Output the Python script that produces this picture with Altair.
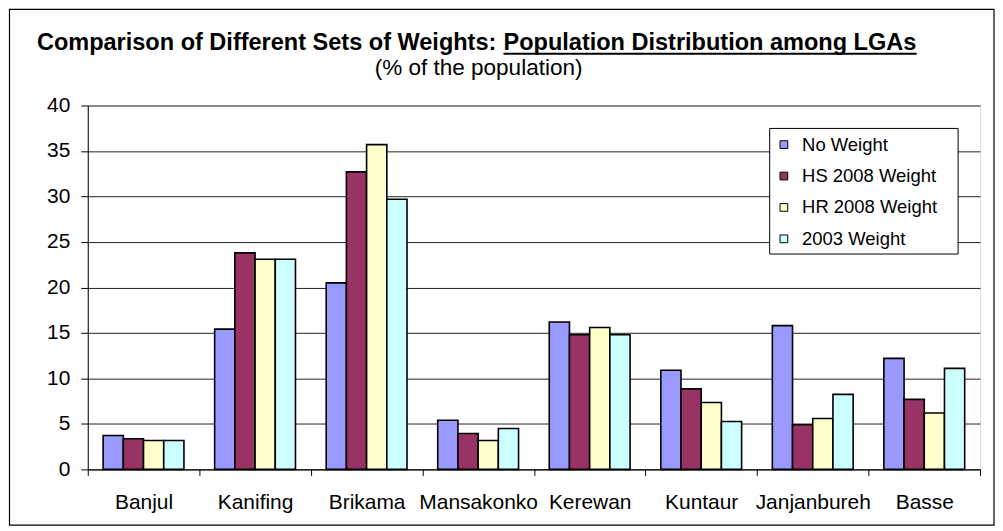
import altair as alt
import pandas as pd

regions = ["Banjul", "Kanifing", "Brikama", "Mansakonko", "Kerewan", "Kuntaur", "Janjanbureh", "Basse"]
series_names = ["No Weight", "HS 2008 Weight", "HR 2008 Weight", "2003 Weight"]
no_weight = [3.73, 15.42, 20.5, 5.4, 16.2, 10.9, 15.8, 12.2]
hs_2008 = [3.36, 23.8, 32.7, 3.95, 14.8, 8.85, 4.9, 7.7]
hr_2008 = [3.18, 23.1, 35.7, 3.18, 15.6, 7.35, 5.6, 6.2]
w_2003 = [3.18, 23.1, 29.7, 4.5, 14.8, 5.26, 8.25, 11.1]
series_colors = ["#9999FF", "#993366", "#FFFFCC", "#CCFFFF"]
y_ticks = [0, 5, 10, 15, 20, 25, 30, 35, 40]

title_main = "Comparison of Different Sets of Weights:"
title_under = "Population Distribution among LGAs"
subtitle = "(% of the population)"

FONT = "Arial, Liberation Sans, sans-serif"

rows = []
for s, vals in zip(series_names, [no_weight, hs_2008, hr_2008, w_2003]):
    for r, v in zip(regions, vals):
        rows.append({"region": r, "series": s, "value": v})
df = pd.DataFrame(rows)

W, H = 895, 365

bars = alt.Chart(df).mark_bar(stroke="black", strokeWidth=1.6).encode(
    x=alt.X("region:N", sort=regions, title=None,
            scale=alt.Scale(paddingInner=0, paddingOuter=0),
            axis=alt.Axis(labelAngle=0, tickBand="extent", tickSize=6, tickColor="black",
                          domainColor="black", labelFontSize=21, labelFont=FONT,
                          labelColor="black", labelPadding=16, grid=False,
                          labelOverlap=False, labelBound=False)),
    xOffset=alt.XOffset("series:N", sort=series_names,
                        scale=alt.Scale(paddingInner=0, paddingOuter=0.76)),
    y=alt.Y("value:Q", title=None,
            scale=alt.Scale(domain=[0, 40], nice=False),
            axis=alt.Axis(values=y_ticks, tickSize=7, tickColor="black", domainColor="black",
                          labelFontSize=21, labelFont=FONT, labelColor="black",
                          labelPadding=11, grid=True, gridColor="#222222", gridWidth=1)),
    color=alt.Color("series:N", sort=series_names,
                    scale=alt.Scale(domain=series_names, range=series_colors),
                    legend=alt.Legend(title=None, orient="none", legendX=683, legendY=24,
                                      padding=6, symbolType="square", symbolSize=60,
                                      symbolStrokeColor="black", symbolStrokeWidth=1,
                                      labelFontSize=18.5, labelFont=FONT, labelColor="black",
                                      labelOffset=9, rowPadding=12.5)),
)

one = pd.DataFrame({"k": [0]})

legend_box = alt.Chart(one).mark_rect(fill="white", stroke="black", strokeWidth=1).encode(
    x=alt.value(684), x2=alt.value(873), y=alt.value(23), y2=alt.value(149)
)

frame = alt.Chart(one).mark_rect(fill=None, stroke="black", strokeWidth=1.2).encode(
    x=alt.value(-78.5), x2=alt.value(909), y=alt.value(-96.5), y2=alt.value(421)
)

t1 = alt.Chart(pd.DataFrame({"t": [title_main]})).mark_text(
    font=FONT, fontSize=23.6, fontWeight="bold", align="left", baseline="alphabetic", color="black"
).encode(x=alt.value(-51), y=alt.value(-56), text="t:N")

t2 = alt.Chart(pd.DataFrame({"t": [title_under]})).mark_text(
    font=FONT, fontSize=23.6, fontWeight="bold", align="left", baseline="alphabetic", color="black"
).encode(x=alt.value(417), y=alt.value(-56), text="t:N")

underline = alt.Chart(one).mark_rule(color="black", strokeWidth=2).encode(
    x=alt.value(417), x2=alt.value(831.5), y=alt.value(-52)
)

t3 = alt.Chart(pd.DataFrame({"t": [subtitle]})).mark_text(
    font=FONT, fontSize=22.6, align="center", baseline="alphabetic", color="black"
).encode(x=alt.value(392), y=alt.value(-31), text="t:N")

chart = alt.layer(bars, legend_box, frame, t1, t2, underline, t3).properties(
    width=W, height=H,
    autosize=alt.AutoSizeParams(type="none"),
    padding={"left": 80, "top": 97, "right": 15, "bottom": 58},
).configure_view(fill="#C0C0C0", stroke="#808080", strokeWidth=1.5
).configure(background="white")

chart.save("out.html", embed_options={"renderer": "svg", "actions": False})
